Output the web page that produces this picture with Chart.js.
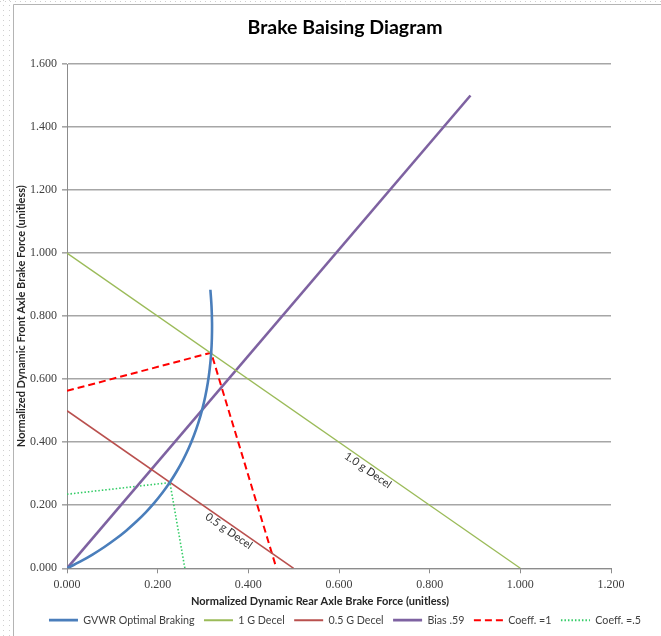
<!DOCTYPE html>
<html><head><meta charset="utf-8">
<script src="https://cdn.jsdelivr.net/npm/chart.js@4.4.1/dist/chart.umd.min.js"></script>
<style>
html,body{margin:0;padding:0;width:661px;height:636px;overflow:hidden;background:#fff;}
#wrap{position:absolute;left:0;top:0;width:677px;height:636px;}
</style></head><body>
<div id="wrap"><canvas id="c" width="677" height="636"></canvas></div>
<script>
// ---- data ----
const seriesNames = ['GVWR Optimal Braking','1 G Decel','0.5 G Decel','Bias .59','Coeff. =1','Coeff. =.5'];
const optimalRear  = [0,0.0288,0.0563,0.0824,0.1071,0.1305,0.1525,0.1732,0.1925,0.2104,0.2270,0.2422,0.2561,0.2686,0.2797,0.2895,0.2979,0.3050,0.3107,0.3150,0.3180,0.3196,0.3199,0.3188,0.3163];
const optimalFront = [0,0.0212,0.0437,0.0676,0.0929,0.1195,0.1475,0.1768,0.2075,0.2396,0.2730,0.3078,0.3439,0.3814,0.4203,0.4605,0.5021,0.5450,0.5893,0.6350,0.6820,0.7304,0.7801,0.8312,0.8837];
const oneGRear   = [0, 1.0];
const oneGFront  = [1.0, 0];
const halfGRear  = [0, 0.5];
const halfGFront = [0.5, 0];
const biasRear   = [0, 0.890];
const biasFront  = [0, 1.500];
const coeff1Rear   = [0, 0.318, 0.462];
const coeff1Front  = [0.563, 0.684, 0];
const coeff05Rear  = [0, 0.227, 0.260];
const coeff05Front = [0.235, 0.272, 0];
const xTickValues = [0, 0.2, 0.4, 0.6, 0.8, 1.0, 1.2];
const yTickValues = [0, 0.2, 0.4, 0.6, 0.8, 1.0, 1.2, 1.4, 1.6];
const lineLabelTexts = ['1.0 g Decel', '0.5 g Decel'];

const pts = (xs, ys) => xs.map((v, i) => ({x: v, y: ys[i]}));

const styles = [
  {color:'#4A7EBB', width:2.6, dash:[]},
  {color:'#9BBB59', width:1.3, dash:[]},
  {color:'#B9504E', width:1.6, dash:[]},
  {color:'#7E62A1', width:2.6, dash:[]},
  {color:'#FF0000', width:2.0, dash:[7,4]},
  {color:'#33CC66', width:1.6, dash:[1.5,2]}
];
const seriesData = [
  pts(optimalRear, optimalFront),
  pts(oneGRear, oneGFront),
  pts(halfGRear, halfGFront),
  pts(biasRear, biasFront),
  pts(coeff1Rear, coeff1Front),
  pts(coeff05Rear, coeff05Front)
];

const datasets = seriesNames.map((n, i) => ({
  label: n,
  data: seriesData[i],
  showLine: true,
  borderColor: styles[i].color,
  backgroundColor: styles[i].color,
  borderWidth: styles[i].width,
  borderDash: styles[i].dash,
  pointRadius: 0,
  pointHoverRadius: 0,
  pointStyle: 'line',
  tension: i === 0 ? 0.3 : 0,
  fill: false
}));

const framePlugin = {
  id: 'frame',
  beforeDraw(chart) {
    const ctx = chart.ctx;
    ctx.save();
    ctx.fillStyle = '#fff';
    ctx.fillRect(0, 0, chart.width, chart.height);
    ctx.strokeStyle = '#d0d0d0';
    ctx.lineWidth = 1;
    ctx.setLineDash([1, 4]);
    [3.5, 9.5].forEach(xx => { ctx.beginPath(); ctx.moveTo(xx, 0); ctx.lineTo(xx, chart.height); ctx.stroke(); });
    ctx.beginPath(); ctx.moveTo(0, 1.5); ctx.lineTo(chart.width, 1.5); ctx.stroke();
    ctx.setLineDash([]);
    ctx.strokeStyle = '#b4b4b4';
    ctx.beginPath(); ctx.moveTo(13.5, chart.height); ctx.lineTo(13.5, 4.5); ctx.lineTo(chart.width, 4.5); ctx.stroke();
    ctx.restore();
  }
};

const labelPlugin = {
  id: 'lineLabels',
  afterDatasetsDraw(chart, args, opts) {
    const {ctx, scales: {x, y}} = chart;
    ctx.save();
    ctx.font = opts.font;
    ctx.fillStyle = opts.color;
    ctx.textAlign = 'center';
    ctx.textBaseline = 'top';
    opts.items.forEach(it => {
      const d = seriesData[it.series];
      const a = d[0], b = d[d.length - 1];
      const ax = x.getPixelForValue(a.x), ay = y.getPixelForValue(a.y);
      const bx = x.getPixelForValue(b.x), by = y.getPixelForValue(b.y);
      const px = ax + (bx - ax) * it.t, py = ay + (by - ay) * it.t;
      const ang = Math.atan2(by - ay, bx - ax);
      ctx.save();
      ctx.translate(px, py);
      ctx.rotate(ang);
      ctx.fillText(it.text, 0, 1);
      ctx.restore();
    });
    // x axis title
    ctx.font = opts.xTitleFont;
    ctx.fillStyle = '#262626';
    ctx.textBaseline = 'middle';
    ctx.fillText(opts.xTitle, opts.xTitleX, opts.xTitleY);
    ctx.restore();
  }
};

new Chart(document.getElementById('c'), {
  type: 'scatter',
  data: { datasets },
  plugins: [framePlugin, labelPlugin],
  options: {
    responsive: false,
    animation: false,
    layout: { padding: { left: 13, right: 0, top: 0, bottom: 0.5 } },
    plugins: {
      title: {
        display: true,
        text: 'Brake Baising Diagram',
        color: '#000',
        font: { family: 'Lato', size: 19.5, weight: 'bold' },
        padding: { top: 16.3, bottom: 24.3 }
      },
      legend: {
        position: 'bottom',
        labels: {
          usePointStyle: true,
          pointStyle: 'line',
          pointStyleWidth: 29,
          boxHeight: 11,
          padding: 9.5,
          color: '#404040',
          font: { family: 'Lato', size: 10.7 },
          generateLabels(chart) {
            const items = Chart.defaults.plugins.legend.labels.generateLabels(chart);
            items.forEach((it, i) => {
              const ds = chart.data.datasets[i];
              it.lineDash = ds.borderDash;
              it.strokeStyle = ds.borderColor;
              it.lineWidth = Math.max(ds.borderWidth, 2);
              it.pointStyle = 'line';
              it.fontColor = '#404040';
            });
            return items;
          }
        }
      },
      tooltip: { enabled: false },
      lineLabels: {
        font: '11px Lato',
        color: '#333',
        items: [
          { series: 1, t: 0.672, text: lineLabelTexts[0] },
          { series: 2, t: 0.73, text: lineLabelTexts[1] }
        ],
        xTitle: 'Normalized Dynamic Rear Axle Brake Force (unitless)',
        xTitleFont: 'bold 11px Lato',
        xTitleX: 320,
        xTitleY: 601
      }
    },
    scales: {
      x: {
        type: 'linear',
        min: 0, max: 1.2,
        afterBuildTicks: s => { s.ticks = xTickValues.map(v => ({value: v})); },
        afterFit: s => { s.height = 37; },
        ticks: {
          callback: v => Number(v).toFixed(3),
          color: '#404040',
          font: { family: 'Liberation Serif', size: 12 },
          padding: 4,
          maxRotation: 0
        },
        grid: { drawOnChartArea: false, drawTicks: true, tickLength: 5, color: '#8c8c8c' },
        border: { color: '#8c8c8c', width: 1 },
        title: { display: false }
      },
      y: {
        type: 'linear',
        min: 0, max: 1.6,
        afterBuildTicks: s => { s.ticks = yTickValues.map(v => ({value: v})); },
        afterFit: s => { s.width = 54; },
        ticks: {
          callback: v => Number(v).toFixed(3),
          color: '#404040',
          font: { family: 'Liberation Serif', size: 12 },
          padding: 5
        },
        grid: { color: '#a6a6a6', lineWidth: 1.6, tickLength: 5, drawTicks: true },
        border: { color: '#8c8c8c', width: 1 },
        title: {
          display: true,
          text: 'Normalized Dynamic Front Axle Brake Force (unitless)',
          color: '#262626',
          font: { family: 'Lato', size: 11, weight: 'bold' },
          padding: { top: 2, bottom: 0 }
        }
      },
      rightSpace: {
        type: 'linear',
        position: 'right',
        display: true,
        afterFit: s => { s.width = 66; },
        ticks: { display: false },
        grid: { display: false },
        border: { display: false }
      }
    }
  }
});
</script>
</body></html>
